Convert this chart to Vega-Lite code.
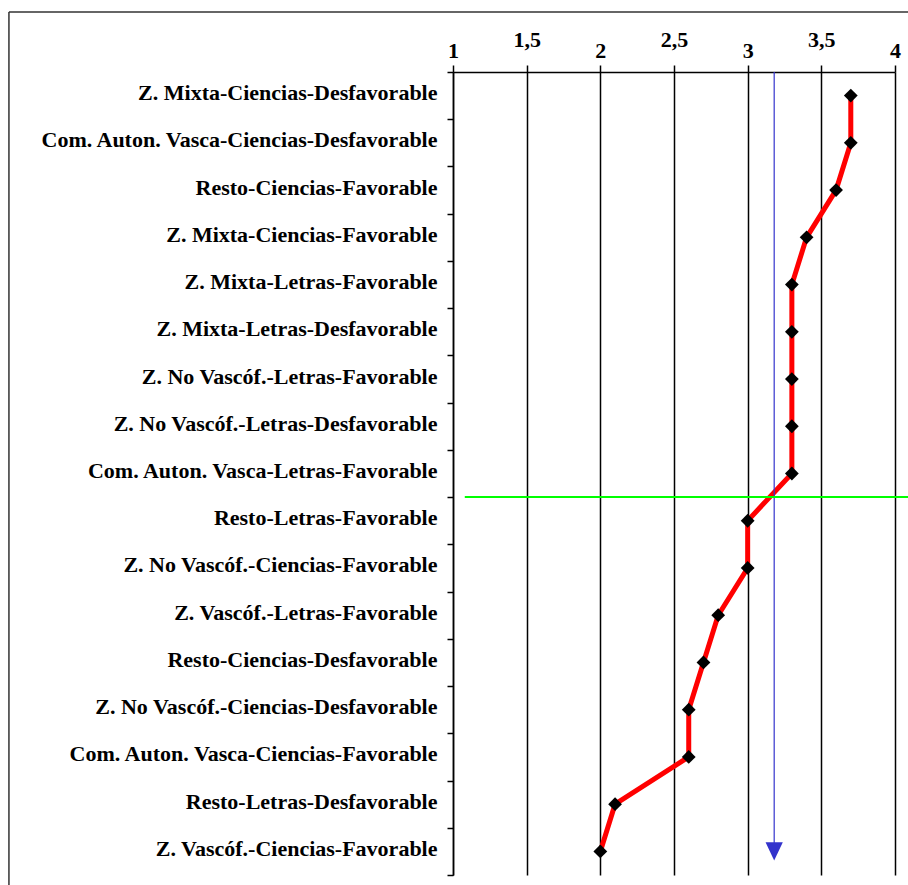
{
  "$schema": "https://vega.github.io/schema/vega-lite/v6.json",
  "autosize": {"type": "none"},
  "width": 442,
  "height": 803,
  "padding": {"left": 453, "top": 72, "right": 13, "bottom": 10},
  "background": "white",
  "config": {"view": {"stroke": null}},
  "resolve": {"scale": {"y": "independent"}, "axis": {"y": "independent"}},
  "encoding": {
    "x": {
      "field": "value", "type": "quantitative",
      "scale": {"domain": [1, 4], "nice": false, "zero": false},
      "axis": {
        "orient": "top", "title": null, "values": [1, 1.5, 2, 2.5, 3, 3.5, 4],
        "labelExpr": "replace(format(datum.value, ''), '.', ',')",
        "grid": true, "gridColor": "black", "gridWidth": 1.5, "gridOpacity": 1,
        "domainColor": "black", "domainWidth": 1.5, "tickColor": "black", "tickWidth": 1.5, "tickSize": 7,
        "labelFont": "Liberation Serif", "labelFontWeight": "bold", "labelFontSize": 22, "labelColor": "black",
        "labelBaseline": "alphabetic", "labelFlush": false, "labelOverlap": false,
        "labelPadding": {"condition": {"test": "datum.value % 1 !== 0", "value": 19}, "value": 8}
      }
    }
  },
  "layer": [
    {
      "data": {"values": [
        {"value": -2.014, "value2": 4.3, "ya": 1.0747, "yb": 1.0747},
        {"value": -2.014, "value2": -2.014, "ya": 1.0747, "yb": -0.05}
      ]},
      "mark": {"type": "rule", "color": "#333333", "strokeWidth": 1.5},
      "encoding": {
        "x2": {"field": "value2"},
        "y": {"field": "ya", "type": "quantitative", "scale": {"domain": [0, 1], "nice": false, "zero": false}, "axis": null},
        "y2": {"field": "yb"}
      }
    },
    {
      "data": {"values": [
        {"rank": 1, "group": "Z. Mixta-Ciencias-Desfavorable", "value": 3.7},
        {"rank": 2, "group": "Com. Auton. Vasca-Ciencias-Desfavorable", "value": 3.7},
        {"rank": 3, "group": "Resto-Ciencias-Favorable", "value": 3.6},
        {"rank": 4, "group": "Z. Mixta-Ciencias-Favorable", "value": 3.4},
        {"rank": 5, "group": "Z. Mixta-Letras-Favorable", "value": 3.3},
        {"rank": 6, "group": "Z. Mixta-Letras-Desfavorable", "value": 3.3},
        {"rank": 7, "group": "Z. No Vascóf.-Letras-Favorable", "value": 3.3},
        {"rank": 8, "group": "Z. No Vascóf.-Letras-Desfavorable", "value": 3.3},
        {"rank": 9, "group": "Com. Auton. Vasca-Letras-Favorable", "value": 3.3},
        {"rank": 10, "group": "Resto-Letras-Favorable", "value": 3.0},
        {"rank": 11, "group": "Z. No Vascóf.-Ciencias-Favorable", "value": 3.0},
        {"rank": 12, "group": "Z. Vascóf.-Letras-Favorable", "value": 2.8},
        {"rank": 13, "group": "Resto-Ciencias-Desfavorable", "value": 2.7},
        {"rank": 14, "group": "Z. No Vascóf.-Ciencias-Desfavorable", "value": 2.6},
        {"rank": 15, "group": "Com. Auton. Vasca-Ciencias-Favorable", "value": 2.6},
        {"rank": 16, "group": "Resto-Letras-Desfavorable", "value": 2.1},
        {"rank": 17, "group": "Z. Vascóf.-Ciencias-Favorable", "value": 2.0}
      ]},
      "encoding": {
        "y": {
          "field": "group", "type": "nominal", "sort": null,
          "scale": {"type": "band", "paddingInner": 0, "paddingOuter": 0, "domain": [
            "Z. Mixta-Ciencias-Desfavorable", "Com. Auton. Vasca-Ciencias-Desfavorable", "Resto-Ciencias-Favorable",
            "Z. Mixta-Ciencias-Favorable", "Z. Mixta-Letras-Favorable", "Z. Mixta-Letras-Desfavorable",
            "Z. No Vascóf.-Letras-Favorable", "Z. No Vascóf.-Letras-Desfavorable", "Com. Auton. Vasca-Letras-Favorable",
            "Resto-Letras-Favorable", "Z. No Vascóf.-Ciencias-Favorable", "Z. Vascóf.-Letras-Favorable",
            "Resto-Ciencias-Desfavorable", "Z. No Vascóf.-Ciencias-Desfavorable", "Com. Auton. Vasca-Ciencias-Favorable",
            "Resto-Letras-Desfavorable", "Z. Vascóf.-Ciencias-Favorable"]},
          "axis": {
            "title": null, "tickBand": "extent", "tickSize": 6, "tickColor": "black", "tickWidth": 1.5,
            "domainColor": "black", "domainWidth": 1.5, "grid": false,
            "labelFont": "Liberation Serif", "labelFontWeight": "bold", "labelFontSize": 22,
            "labelColor": "black", "labelPadding": 10, "labelLimit": 600, "labelOffset": -3
          }
        }
      },
      "layer": [
        {
          "mark": {"type": "line", "color": "#FF0000", "strokeWidth": 5},
          "encoding": {"order": {"field": "rank", "type": "quantitative"}}
        },
        {
          "mark": {"type": "point", "shape": "diamond", "filled": true, "color": "black", "size": 190, "opacity": 1}
        },
        {
          "data": {"values": [{"value": 3.18, "top": "Z. Mixta-Ciencias-Desfavorable", "bottom": "Z. Vascóf.-Ciencias-Favorable"}]},
          "mark": {"type": "rule", "color": "#3333CC", "strokeWidth": 1.2},
          "encoding": {
            "y": {"field": "top", "type": "nominal", "bandPosition": 0},
            "y2": {"field": "bottom", "bandPosition": 0.5}
          }
        },
        {
          "data": {"values": [{"value": 3.18, "bottom": "Z. Vascóf.-Ciencias-Favorable"}]},
          "mark": {"type": "point", "shape": "M-0.95,-1L0,1L0.95,-1Z", "filled": true, "color": "#3333CC", "size": 330, "opacity": 1},
          "encoding": {
            "y": {"field": "bottom", "type": "nominal"}
          }
        },
        {
          "data": {"values": [{"value": 1.08, "value2": 4.09, "split": "Resto-Letras-Favorable"}]},
          "mark": {"type": "rule", "color": "#00FF00", "strokeWidth": 2},
          "encoding": {
            "x2": {"field": "value2"},
            "y": {"field": "split", "type": "nominal", "bandPosition": 0}
          }
        }
      ]
    }
  ]
}
